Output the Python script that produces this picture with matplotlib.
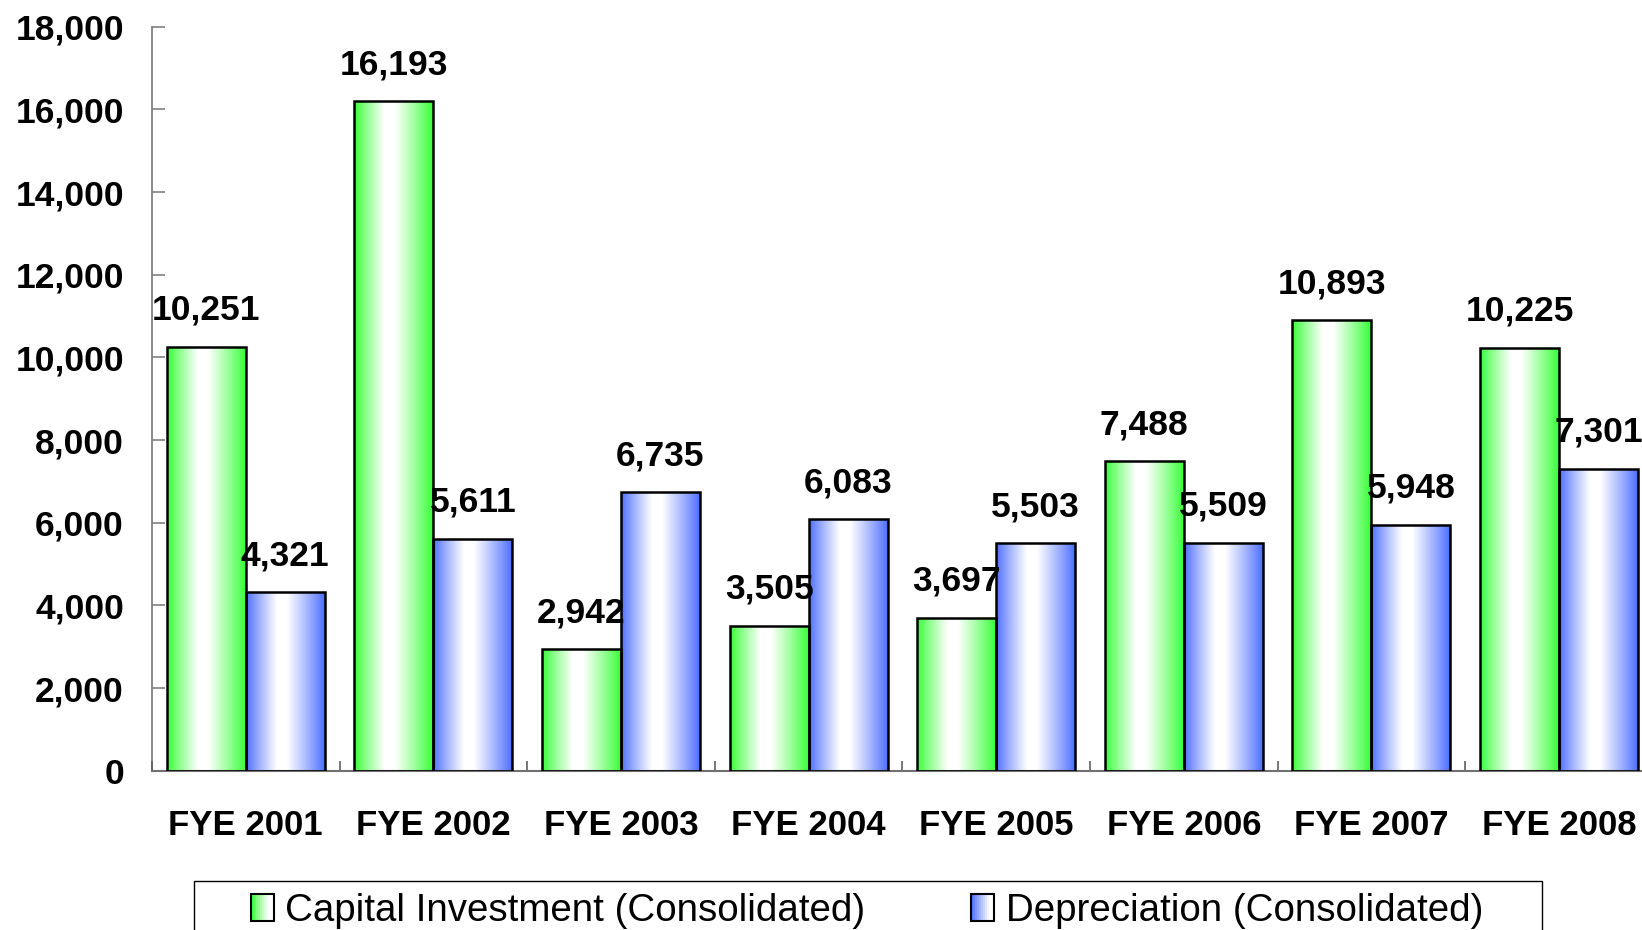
import numpy as np
import matplotlib
matplotlib.use("Agg")
import matplotlib.pyplot as plt
from matplotlib.patches import Rectangle
from matplotlib.legend_handler import HandlerBase
from matplotlib.colors import to_rgb

plt.rcParams['font.family'] = ['Liberation Sans', 'DejaVu Sans']

categories = ["FYE 2001", "FYE 2002", "FYE 2003", "FYE 2004",
              "FYE 2005", "FYE 2006", "FYE 2007", "FYE 2008"]
capital_investment = [10251, 16193, 2942, 3505, 3697, 7488, 10893, 10225]
depreciation = [4321, 5611, 6735, 6083, 5503, 5509, 5948, 7301]
series_names = ["Capital Investment (Consolidated)", "Depreciation (Consolidated)"]
yticks = [0, 2000, 4000, 6000, 8000, 10000, 12000, 14000, 16000, 18000]

GREEN = "#33ff33"
BLUE = "#4a6cff"

W, H, DPI = 1642, 930, 100
fig = plt.figure(figsize=(W / DPI, H / DPI), dpi=DPI)
ax = fig.add_axes([152 / W, 1 - 770.7 / H, (1652.8 - 152) / W, (770.7 - 26.7) / H])


def gradient_row(color, n=256):
    t = np.linspace(0, 1, n)
    c = 0.45
    f = np.where(t < c, t / c, (1 - t) / (1 - c))
    f = np.clip(f * 1.15, 0, 1) ** 0.9
    base = np.array(to_rgb(color))
    rgb = base[None, :] * (1 - f[:, None]) + np.ones(3)[None, :] * f[:, None]
    return rgb[None, :, :]


x = np.arange(len(categories))
bw = 0.421
for vals, off, col in [(capital_investment, -bw / 2, GREEN), (depreciation, bw / 2, BLUE)]:
    bars = ax.bar(x + off, vals, width=bw, facecolor="none", edgecolor="black",
                  linewidth=1.8, zorder=3)
    grad = gradient_row(col)
    for b in bars:
        x0, w, h = b.get_x(), b.get_width(), b.get_height()
        im = ax.imshow(grad, extent=[x0, x0 + w, 0, h], aspect="auto",
                       interpolation="bilinear", zorder=2)
        im.set_clip_path(b)
        ax.annotate(f"{int(b.get_height()):,}", (x0 + w / 2, h),
                    xytext=(0, 19.5), textcoords="offset points",
                    ha="center", va="baseline", fontsize=25.5,
                    fontweight="bold", zorder=4)

ax.set_xlim(-0.5, len(categories) - 0.5)
ax.set_ylim(0, 18000)
ax.set_yticks(yticks)
ax.set_yticklabels([f"{v:,}" for v in yticks], fontsize=25.5, fontweight="bold")
ax.tick_params(axis="y", direction="in", length=9.4, width=1.2, color="#808080", pad=20.2)

ax.set_xticks(np.arange(-0.5, len(categories), 1.0))
ax.set_xticklabels([])
ax.set_xticks(x, minor=True)
ax.set_xticklabels(categories, minor=True, fontsize=25, fontweight="bold")
ax.tick_params(axis="x", which="major", direction="in", length=7.2, width=1.2, color="#606060")
ax.tick_params(axis="x", which="minor", length=0, pad=27.5)

for s in ["top", "right"]:
    ax.spines[s].set_visible(False)
ax.spines["left"].set_color("#808080")
ax.spines["left"].set_linewidth(1.3)
ax.spines["bottom"].set_color("#707070")
ax.spines["bottom"].set_linewidth(1.5)
ax.spines["left"].set_zorder(1)


class GradientHandler(HandlerBase):
    def __init__(self, color):
        super().__init__()
        self.color = color

    def create_artists(self, legend, orig_handle, xdescent, ydescent, width, height,
                       fontsize, trans):
        arts = []
        n = 12
        base = np.array(to_rgb(self.color))
        for i in range(n):
            f = (i + 0.5) / n
            f = min(1.0, f * 1.3)
            c = base * (1 - f) + f
            r = Rectangle((-xdescent + width * i / n, -ydescent), width / n + 0.3, height,
                          facecolor=c, edgecolor="none", transform=trans)
            arts.append(r)
        arts.append(Rectangle((-xdescent, -ydescent), width, height, facecolor="none",
                              edgecolor="black", linewidth=1.5, transform=trans))
        return arts


h1 = Rectangle((0, 0), 1, 1)
h2 = Rectangle((0, 0), 1, 1)
fig.legend([h1, h2], series_names, loc="center left",
           bbox_to_anchor=(250.7 / W, 1 - 911 / H), ncol=2, frameon=False,
           fontsize=27.7, handlelength=0.6, handleheight=0.67, handletextpad=0.3,
           columnspacing=2.75, borderpad=0, borderaxespad=0,
           handler_map={h1: GradientHandler(GREEN), h2: GradientHandler(BLUE)})

fig.add_artist(Rectangle((194 / W, -0.1), (1541.7 - 194) / W, (1 - 880.7 / H) + 0.1,
                         transform=fig.transFigure, fill=False, edgecolor="black",
                         linewidth=1.0))

fig.savefig("out.png", dpi=DPI)
